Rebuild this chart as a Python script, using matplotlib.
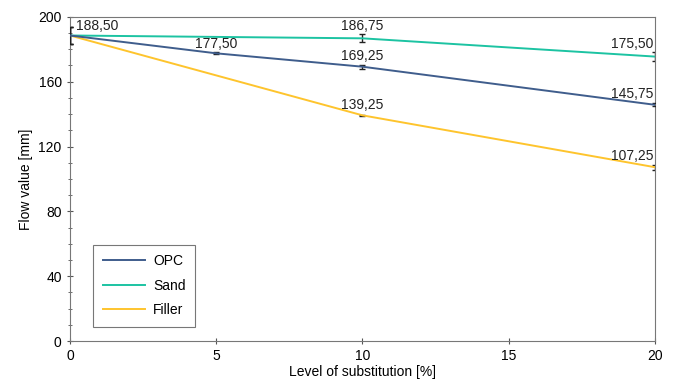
import matplotlib
matplotlib.use('Agg')
import matplotlib.pyplot as plt
from matplotlib.ticker import MultipleLocator
from matplotlib.lines import Line2D

plt.rcParams['font.family'] = ['Liberation Sans', 'DejaVu Sans']

# data
opc_x = [0, 5, 10, 20]
opc_y = [188.50, 177.50, 169.25, 145.75]
opc_err = [5.0, 0.6, 1.2, 1.0]

sand_x = [0, 10, 20]
sand_y = [188.50, 186.75, 175.50]
sand_err = [5.0, 2.5, 3.0]

filler_x = [0, 10, 20]
filler_y = [188.50, 139.25, 107.25]
filler_err = [5.0, 0.5, 1.5]

C_OPC, C_SAND, C_FILL = '#3f5d8c', '#1cc3a2', '#fec42d'

fig = plt.figure(figsize=(6.8, 3.92), dpi=100)
ax = fig.add_axes([0.103, 0.130, 0.860, 0.827])

ebkw = dict(ecolor='#222222', elinewidth=1.0, capsize=2.5, capthick=1.0)
ax.errorbar(opc_x, opc_y, yerr=opc_err, color=C_OPC, lw=1.4, zorder=3, **ebkw)
ax.errorbar(sand_x, sand_y, yerr=sand_err, color=C_SAND, lw=1.4, zorder=2, **ebkw)
ax.errorbar(filler_x, filler_y, yerr=filler_err, color=C_FILL, lw=1.4, zorder=1, **ebkw)

fmt = lambda v: f'{v:.2f}'.replace('.', ',')
tk = dict(fontsize=10, color='#222222')
ax.text(0.2, opc_y[0] + 1.5, fmt(opc_y[0]), ha='left', va='bottom', **tk)
ax.text(5, opc_y[1] + 1.5, fmt(opc_y[1]), ha='center', va='bottom', **tk)
ax.text(10, opc_y[2] + 2, fmt(opc_y[2]), ha='center', va='bottom', **tk)
ax.text(10, sand_y[1] + 3, fmt(sand_y[1]), ha='center', va='bottom', **tk)
ax.text(10, filler_y[1] + 2, fmt(filler_y[1]), ha='center', va='bottom', **tk)
ax.text(19.95, sand_y[2] + 3.5, fmt(sand_y[2]), ha='right', va='bottom', **tk)
ax.text(19.95, opc_y[3] + 2.5, fmt(opc_y[3]), ha='right', va='bottom', **tk)
ax.text(19.95, filler_y[2] + 2.5, fmt(filler_y[2]), ha='right', va='bottom', **tk)

ax.set_xlim(0, 20)
ax.set_ylim(0, 200)
ax.xaxis.set_major_locator(MultipleLocator(5))
ax.yaxis.set_major_locator(MultipleLocator(40))
ax.yaxis.set_minor_locator(MultipleLocator(10))
ax.tick_params(axis='both', which='major', direction='inout', length=5, color='#555555', labelsize=10)
ax.tick_params(axis='y', which='minor', direction='inout', length=3, color='#555555')
for s in ax.spines.values():
    s.set_color('#777777')
ax.set_xlabel('Level of substitution [%]', fontsize=10, labelpad=1)
ax.set_ylabel('Flow value [mm]', fontsize=10, labelpad=4)

handles = [Line2D([], [], color=C_OPC, lw=1.4),
           Line2D([], [], color=C_SAND, lw=1.4),
           Line2D([], [], color=C_FILL, lw=1.4)]
leg = ax.legend(handles, ['OPC', 'Sand', 'Filler'], loc='lower left',
                bbox_to_anchor=(0.035, 0.035), fontsize=10, frameon=True,
                fancybox=False, edgecolor='#555555', handlelength=3.0, labelspacing=0.75,
                borderpad=0.7, handletextpad=0.6, borderaxespad=0.2)
leg.get_frame().set_linewidth(0.8)

fig.savefig('out.png', dpi=100)
